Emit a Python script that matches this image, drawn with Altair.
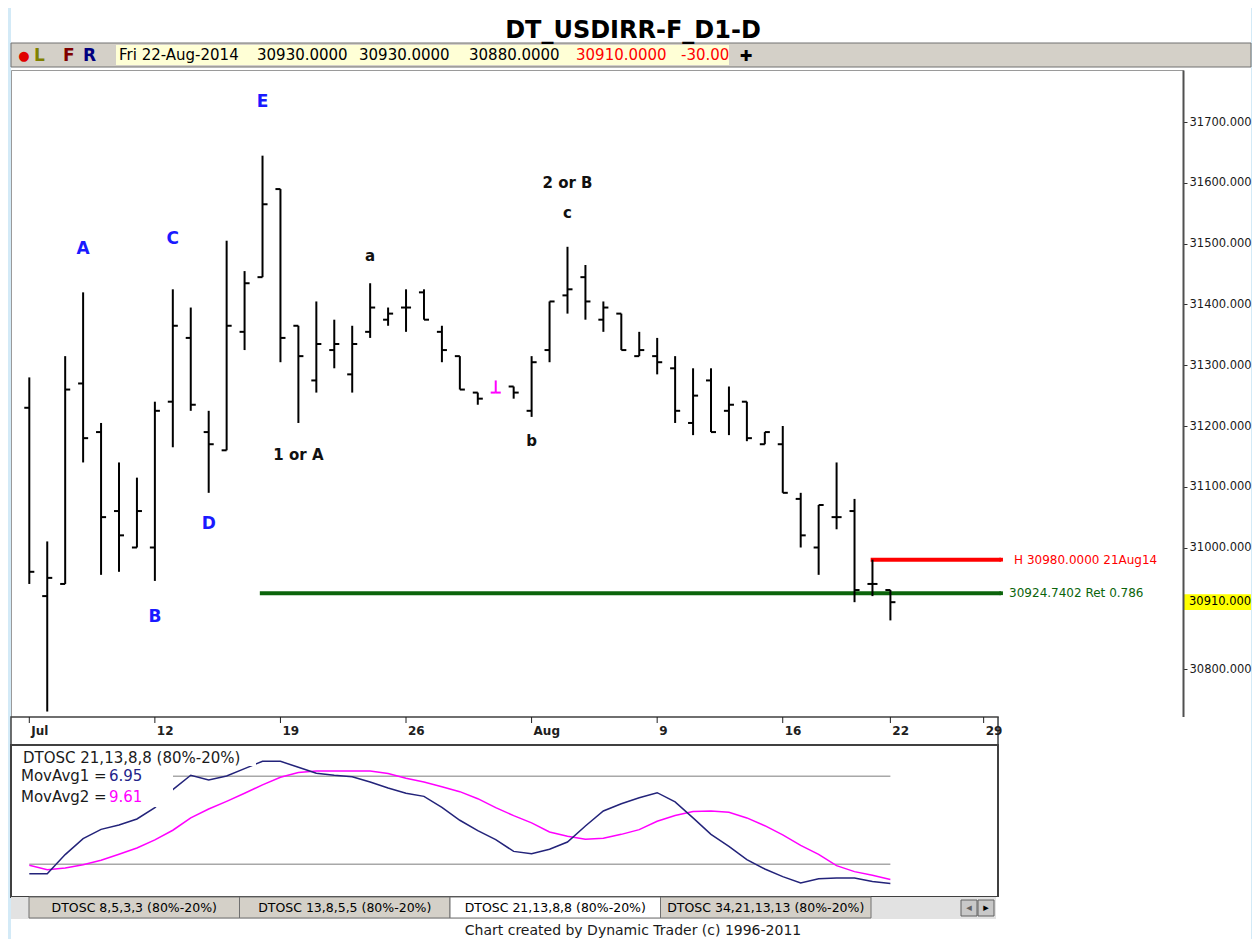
import altair as alt
import pandas as pd

# ---------------- data ----------------
chart_title = "DT_USDIRR-F_D1-D"
last_date_label = "Fri 22-Aug-2014"
high_date_label = "21Aug14"

bar_index = list(range(49))
opens = [31230, 30920, 30940, 31270, 31190, 31060, 31000, 31000, 31240, 31345,
         31190, 31160, 31355, 31445, 31590, 31365, 31275, 31325, 31285, 31355,
         31375, 31395, 31420, 31355, 31315, 31255, 31255, 31265, 31225, 31325,
         31415, 31445, 31375, 31385, 31315, 31315, 31295, 31205, 31275, 31225,
         31240, 31170, 31170, 31080, 31000, 31050, 31060, 30940, 30930]
highs = [31280, 31010, 31315, 31420, 31205, 31140, 31115, 31240, 31425, 31395,
         31225, 31505, 31455, 31645, 31590, 31365, 31405, 31375, 31365, 31435,
         31395, 31425, 31425, 31365, 31315, 31255, 31275, 31265, 31315, 31405,
         31495, 31465, 31405, 31385, 31355, 31345, 31315, 31295, 31295, 31265,
         31240, 31190, 31200, 31090, 31070, 31140, 31080, 30980, 30930]
lows = [30940, 30730, 30940, 31140, 30955, 30960, 31000, 30945, 31165, 31225,
        31090, 31160, 31325, 31445, 31305, 31205, 31255, 31295, 31255, 31345,
        31365, 31355, 31375, 31305, 31260, 31235, 31255, 31245, 31215, 31305,
        31385, 31375, 31355, 31325, 31315, 31285, 31205, 31185, 31190, 31185,
        31175, 31170, 31090, 31000, 30955, 31030, 30910, 30920, 30880]
closes = [30960, 30950, 31260, 31180, 31050, 31020, 31060, 31225, 31365, 31235,
          31170, 31365, 31435, 31565, 31345, 31315, 31335, 31335, 31335, 31395,
          31385, 31395, 31375, 31325, 31260, 31245, 31255, 31255, 31305, 31405,
          31425, 31405, 31395, 31325, 31325, 31305, 31225, 31250, 31190, 31235,
          31180, 31190, 31090, 31020, 31070, 31050, 30930, 30940, 30910]
marked_bar = 26

date_tick_idx = [0, 7, 14, 21, 28, 35, 42, 48, 53.2]
date_tick_labels = ["Jul", "12", "19", "26", "Aug", "9", "16", "22", "29"]
price_ticks = [30800, 31000, 31100, 31200, 31300, 31400, 31500, 31600, 31700]

wave_upper_labels = ["A", "B", "C", "D", "E"]
wave_upper_idx = [3, 7, 8, 10, 13]
wave_upper_price = [31492, 30885, 31508, 31039, 31733]
wave_lower_labels = ["1 or A", "a", "b", "c", "2 or B"]
wave_lower_idx = [15, 19, 28, 30, 30]
wave_lower_price = [31153, 31480, 31175, 31550, 31600]

ret_level = 30924.7402
ret_ratio = 0.786
ret_start_idx = 12.85
high_level = 30980.0
high_start_idx = 46.9
level_end_idx = 54.17

osc_name = "DTOSC 21,13,8,8 (80%-20%)"
osc_bands = [80, 20]
osc_main = [13.6, 13.6, 26.6, 37.5, 43.8, 46.8, 50.9, 58.6, 70.9, 80.7,
            77.5, 80.2, 85.2, 90.2, 90.2, 86.1, 82.0, 80.7, 79.7, 76.1,
            72.0, 68.4, 66.3, 58.8, 50.0, 42.9, 36.8, 28.8, 27.2, 30.2,
            35.2, 46.1, 56.3, 61.3, 65.4, 68.8, 62.5, 51.6, 40.4, 32.2,
            23.2, 16.8, 11.6, 7.2, 10.2, 10.6, 10.6, 8.2, 6.95]
osc_ma = [19.3, 16.3, 17.5, 19.7, 22.7, 26.8, 31.1, 36.6, 43.2, 51.6,
          57.7, 62.9, 68.4, 74.1, 79.3, 82.5, 83.6, 83.6, 83.6, 83.6,
          81.8, 78.6, 76.1, 72.9, 69.5, 64.7, 58.6, 53.2, 48.2, 42.0,
          39.1, 37.0, 37.7, 40.4, 43.6, 49.3, 53.2, 55.9, 56.3, 55.4,
          51.6, 46.3, 40.0, 32.9, 26.8, 19.1, 15.0, 12.5, 9.61]

tab_labels = ["DTOSC 8,5,3,3 (80%-20%)", "DTOSC 13,8,5,5 (80%-20%)",
              "DTOSC 21,13,8,8 (80%-20%)", "DTOSC 34,21,13,13 (80%-20%)"]
active_tab = "DTOSC 21,13,8,8 (80%-20%)"
footer_text = "Chart created by Dynamic Trader  (c) 1996-2011"

# ---------------- layout constants ----------------
FONT = "DejaVu Sans"
FULL_W = 1240
HEAD_H = 62
W_MAIN, H_MAIN = 1172, 647
W_SUB = 987
STRIP_H = 28
H_OSC = 152
H_TABS = 42
X_LO, X_HI_MAIN, X_HI_SUB = -1.02, 64.31, 54.0
Y_LO, Y_HI = 30721, 31786

one = pd.DataFrame({"k": [0]})


def box(x0, x1, y0, y1, fill, stroke=None, sw=1.0):
    kw = dict(fill=fill)
    if stroke is not None:
        kw.update(stroke=stroke, strokeWidth=sw)
    return alt.Chart(one).mark_rect(**kw).encode(
        x=alt.value(x0), x2=alt.value(x1), y=alt.value(y0), y2=alt.value(y1))


def label(text, x, y, size, color="black", weight="normal", align="left"):
    return alt.Chart(one).mark_text(
        text=text, fontSize=size, font=FONT, fontWeight=weight, color=color,
        align=align, baseline="middle").encode(x=alt.value(x), y=alt.value(y))


# ---------------- header ----------------
change = closes[-1] - closes[-2]
header = alt.layer(
    box(0, FULL_W, 35, 59, "#D4D0C8", "#707070"),
    box(105, 718, 37, 57, "#FFFFD6"),
    label(chart_title, 622, 23, 24, weight="bold", align="center"),
    label("●", 13, 48, 13, "#E00000", align="center"),
    label("L", 23, 48, 17, "#808000", "bold"),
    label("F", 52, 48, 17, "#800000", "bold"),
    label("R", 72, 48, 17, "#000080", "bold"),
    label(last_date_label, 108, 47, 15),
    label(f"{opens[-1]:.4f}", 246, 47, 15),
    label(f"{highs[-1]:.4f}", 348, 47, 15),
    label(f"{lows[-1]:.4f}", 458, 47, 15),
    label(f"{closes[-1]:.4f}", 565, 47, 15, "#FF0000"),
    label(f"{change:.2f}", 670, 47, 15, "#FF0000"),
    label("✚", 735, 48, 15, weight="bold", align="center"),
).properties(width=FULL_W, height=HEAD_H,
             view=alt.ViewBackground(fill="white", strokeWidth=0))

# ---------------- main price panel ----------------
xs_main = alt.Scale(domain=[X_LO, X_HI_MAIN], nice=False, zero=False)
ys_main = alt.Scale(domain=[Y_LO, Y_HI], nice=False, zero=False)

price_axis = alt.Axis(orient="right", values=price_ticks, format=".3f", title=None,
                      grid=False, tickSize=4, tickColor="#303030", tickWidth=1,
                      domainColor="#505050", domainWidth=2, labelFontSize=11.5,
                      labelFont=FONT, labelColor="#1A1A1A", labelPadding=2,
                      labelOverlap=False, zindex=1)


def XM(f):
    return alt.X(f, scale=xs_main, axis=None)


def YM(f):
    return alt.Y(f, scale=ys_main, axis=price_axis)


bars = pd.DataFrame({"i": bar_index, "o": opens, "h": highs, "l": lows, "c": closes})
bar_col = alt.condition(alt.datum.i == marked_bar, alt.value("#FF00FF"), alt.value("#000000"))

hl = alt.Chart(bars).mark_rule(strokeWidth=2).encode(
    x=XM("i:Q"), y=YM("l:Q"), y2="h:Q", color=bar_col)
open_tick = alt.Chart(bars).transform_calculate(xa="datum.i - 0.28").mark_rule(strokeWidth=2).encode(
    x=XM("xa:Q"), x2="i:Q", y=YM("o:Q"), color=bar_col)
close_tick = alt.Chart(bars).transform_calculate(xb="datum.i + 0.28").mark_rule(strokeWidth=2).encode(
    x=XM("i:Q"), x2="xb:Q", y=YM("c:Q"), color=bar_col)

levels = pd.DataFrame({
    "x0": [ret_start_idx, high_start_idx],
    "x1": [level_end_idx, level_end_idx],
    "y": [ret_level, high_level],
    "kind": ["ret", "high"],
    "text": [f"{ret_level:.4f} Ret {ret_ratio}", f"H {high_level:.4f} {high_date_label}"],
})
lvl_color = alt.Color("kind:N", scale=alt.Scale(domain=["ret", "high"], range=["#0B640B", "#FF0000"]),
                      legend=None)
lvl_rules = alt.Chart(levels).mark_rule(strokeWidth=4).encode(
    x=XM("x0:Q"), x2="x1:Q", y=YM("y:Q"), color=lvl_color)
lvl_ends = alt.Chart(levels).mark_square(size=14, opacity=1).encode(
    x=XM("x1:Q"), y=YM("y:Q"), color=lvl_color)
lvl_text_ret = alt.Chart(levels).transform_filter(alt.datum.kind == "ret").mark_text(
    align="left", baseline="middle", dx=8, fontSize=12, font=FONT).encode(
    x=XM("x1:Q"), y=YM("y:Q"), text="text:N", color=lvl_color)
lvl_text_high = alt.Chart(levels).transform_filter(alt.datum.kind == "high").mark_text(
    align="left", baseline="middle", dx=13, fontSize=12, font=FONT).encode(
    x=XM("x1:Q"), y=YM("y:Q"), text="text:N", color=lvl_color)

last_df = pd.DataFrame({"c": [closes[-1]], "txt": [f"{closes[-1]:.3f}"]})
tag_box = alt.Chart(last_df).transform_calculate(
    y0="datum.c - 13", y1="datum.c + 13").mark_rect(color="#FFFF00").encode(
    x=alt.value(W_MAIN + 1), x2=alt.value(FULL_W), y=YM("y0:Q"), y2="y1:Q")
tag_txt = alt.Chart(last_df).mark_text(align="left", baseline="middle", fontSize=11.5,
                                       font=FONT, color="black").encode(
    x=alt.value(W_MAIN + 6), y=YM("c:Q"), text="txt:N")

up_df = pd.DataFrame({"t": wave_upper_labels, "i": wave_upper_idx, "p": wave_upper_price})
lo_df = pd.DataFrame({"t": wave_lower_labels, "i": wave_lower_idx, "p": wave_lower_price})
ann_up = alt.Chart(up_df).mark_text(fontSize=17, fontWeight="bold", font=FONT, color="#1A1AFF",
                                    align="center", baseline="middle").encode(
    x=XM("i:Q"), y=YM("p:Q"), text="t:N")
ann_lo = alt.Chart(lo_df).mark_text(fontSize=15, fontWeight="bold", font=FONT, color="#111111",
                                    align="center", baseline="middle").encode(
    x=XM("i:Q"), y=YM("p:Q"), text="t:N")

main = alt.layer(
    box(W_MAIN + 1, FULL_W, 0, H_MAIN, "white"),
    lvl_rules, hl, open_tick, close_tick, lvl_ends, lvl_text_ret, lvl_text_high,
    tag_box, tag_txt, ann_up, ann_lo,
).properties(width=W_MAIN, height=H_MAIN,
             view=alt.ViewBackground(fill="white", stroke="#9A9A9A", strokeWidth=1))

# ---------------- date strip ----------------
xs_sub = alt.Scale(domain=[X_LO, X_HI_SUB], nice=False, zero=False)


def XS(f):
    return alt.X(f, scale=xs_sub, axis=None)


ticks_df = pd.DataFrame({"i": date_tick_idx, "t": date_tick_labels})
strip = alt.layer(
    box(W_SUB + 1, FULL_W, 0, STRIP_H, "white"),
    alt.Chart(ticks_df).mark_rule(color="#202020", strokeWidth=1).encode(
        x=XS("i:Q"), y=alt.value(0), y2=alt.value(6)),
    alt.Chart(ticks_df).mark_text(align="left", baseline="middle", dx=2, fontSize=12,
                                  fontWeight="bold", font=FONT, color="#202020").encode(
        x=XS("i:Q"), y=alt.value(14), text="t:N"),
).properties(width=W_SUB, height=STRIP_H,
             view=alt.ViewBackground(fill="white", stroke="#404040", strokeWidth=1.5))

# ---------------- oscillator ----------------
ys_osc = alt.Scale(domain=[-2.3, 101.3], nice=False, zero=False)


def YO(f):
    return alt.Y(f, scale=ys_osc, axis=None)


osc_df = pd.DataFrame({"i": bar_index, "osc": osc_main, "ma": osc_ma})
band_df = pd.DataFrame({"lvl": osc_bands, "x0": [bar_index[0]] * 2, "x1": [bar_index[-1]] * 2})

osc = alt.layer(
    box(W_SUB + 1, FULL_W, 0, H_OSC, "white"),
    alt.Chart(band_df).mark_rule(color="#A8A8A8", strokeWidth=1.5).encode(
        x=XS("x0:Q"), x2="x1:Q", y=YO("lvl:Q")),
    alt.Chart(osc_df).mark_line(color="#FF00FF", strokeWidth=1.5).encode(
        x=XS("i:Q"), y=YO("ma:Q")),
    alt.Chart(osc_df).mark_line(color="#23237A", strokeWidth=1.5).encode(
        x=XS("i:Q"), y=YO("osc:Q")),
    box(1.5, 245, 1.5, 21, "white"),
    box(1.5, 162, 21, 62, "white"),
    label(osc_name, 12, 13, 15, "#1A1A1A"),
    label("MovAvg1 =", 10, 31, 15, "#1A1A1A"),
    label(f"{osc_main[-1]:.2f}", 98, 31, 15, "#23238A"),
    label("MovAvg2 =", 10, 52, 15, "#1A1A1A"),
    label(f"{osc_ma[-1]:.2f}", 98, 52, 15, "#FF00FF"),
).properties(width=W_SUB, height=H_OSC,
             view=alt.ViewBackground(fill="white", stroke="#404040", strokeWidth=2))

# ---------------- tabs & footer ----------------
tabs_df = pd.DataFrame({"t": tab_labels})
tx = alt.X("t:N", scale=alt.Scale(domain=tab_labels, range=[18, 860], paddingInner=0, paddingOuter=0),
           axis=None)
tabs = alt.layer(
    box(0, FULL_W, 0, H_TABS, "white"),
    box(0, 985, 0, 22, "#E2E2E2"),
    alt.Chart(tabs_df).mark_rect(stroke="#707070", strokeWidth=1).encode(
        x=tx, y=alt.value(0), y2=alt.value(21),
        fill=alt.condition(alt.datum.t == active_tab, alt.value("white"), alt.value("#D4D0C8"))),
    alt.Chart(tabs_df).mark_text(fontSize=12.5, font=FONT, color="black", baseline="middle").encode(
        x=tx, y=alt.value(11), text="t:N"),
    box(950, 966, 3, 19, "#C8C8C8", "#606060"),
    box(967, 983, 3, 19, "#C8C8C8", "#606060"),
    label("◂", 958, 11, 11, "#606060", align="center"),
    label("▸", 975, 11, 11, "black", align="center"),
    label(footer_text, 622, 34, 14, "#1A1A1A", align="center"),
).properties(width=W_SUB, height=H_TABS,
             view=alt.ViewBackground(fill="white", strokeWidth=0))

chart = alt.vconcat(header, main, strip, osc, tabs, spacing=0, bounds="flush").properties(
    background="#D3EAF7",
    padding={"left": 2, "top": 0, "right": 0, "bottom": 0},
)

chart.save("out.html", embed_options={"renderer": "svg", "actions": False})
